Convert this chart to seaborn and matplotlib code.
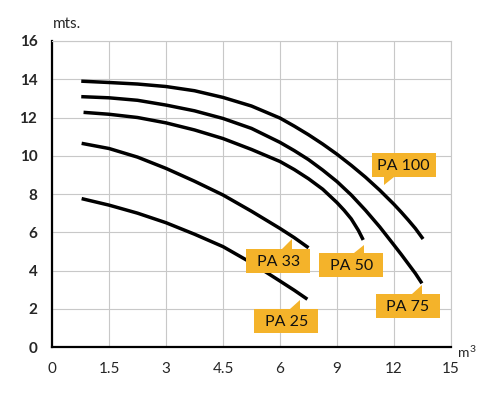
import numpy as np
import pandas as pd
import seaborn as sns
import matplotlib.pyplot as plt
from matplotlib.patches import Polygon, Rectangle
from matplotlib.transforms import IdentityTransform

# pump curves: flow (m3) vs head (mts.)
flow_ticks = [0, 1.5, 3, 4.5, 6, 9, 12, 15]
head_ticks = [0, 2, 4, 6, 8, 10, 12, 14, 16]

pa100_flow = [0.77, 1.5, 2.25, 3.0, 3.75, 4.5, 5.25, 6.0, 6.75, 7.5, 8.25, 9.0, 9.75,
              10.5, 11.25, 12.0, 12.375, 12.75, 13.125, 13.53]
pa100_head = [13.9, 13.83, 13.75, 13.62, 13.4, 13.05, 12.6, 11.97, 11.55, 11.1, 10.61, 10.08, 9.5,
              8.88, 8.2, 7.46, 7.06, 6.64, 6.2, 5.65]

pa75_flow = [0.77, 1.5, 2.25, 3.0, 3.75, 4.5, 5.25, 6.0, 6.75, 7.5, 8.25, 9.0, 9.75,
             10.5, 11.25, 12.0, 12.375, 12.75, 13.125, 13.47]
pa75_head = [13.09, 13.03, 12.9, 12.65, 12.35, 11.95, 11.43, 10.7, 10.27, 9.8, 9.25, 8.65, 7.95,
             7.15, 6.28, 5.33, 4.85, 4.35, 3.85, 3.33]

pa50_flow = [0.83, 1.5, 2.25, 3.0, 3.75, 4.5, 5.25, 6.0, 6.75, 7.5, 8.25, 9.0, 9.375,
             9.75, 10.125, 10.38]
pa50_head = [12.27, 12.17, 12.0, 11.72, 11.35, 10.9, 10.33, 9.7, 9.28, 8.8, 8.25, 7.55, 7.15,
             6.7, 6.1, 5.6]

pa33_flow = [0.78, 1.5, 2.25, 3.0, 3.75, 4.5, 5.25, 6.0, 6.75, 7.5]
pa33_head = [10.65, 10.38, 9.93, 9.34, 8.67, 7.95, 7.1, 6.2, 5.72, 5.19]

pa25_flow = [0.78, 1.5, 2.25, 3.0, 3.75, 4.5, 5.25, 6.0, 6.75, 7.44]
pa25_head = [7.76, 7.42, 7.0, 6.5, 5.9, 5.25, 4.4, 3.45, 2.97, 2.5]

models = ["PA 100", "PA 75", "PA 50", "PA 33", "PA 25"]
flows = [pa100_flow, pa75_flow, pa50_flow, pa33_flow, pa25_flow]
heads = [pa100_head, pa75_head, pa50_head, pa33_head, pa25_head]

# callout labels: box centre and pointer tip (flow, head)
label_box = {"PA 100": (12.51, 9.54), "PA 75": (12.73, 2.15), "PA 50": (9.75, 4.27),
             "PA 33": (5.95, 4.49), "PA 25": (6.33, 1.375)}
label_tip = {"PA 100": (11.49, 8.47), "PA 75": (13.46, 3.26), "PA 50": (10.44, 5.35),
             "PA 33": (6.62, 5.63), "PA 25": (7.05, 2.44)}

df = pd.concat([pd.DataFrame({"model": m, "flow": f, "head": h})
                for m, f, h in zip(models, flows, heads)])

sns.set_style("white")
plt.rcParams['font.family'] = ['Lato', 'DejaVu Sans']

fig = plt.figure(figsize=(5, 3.98), dpi=100)
ax = fig.add_axes([0.104, 0.128, 0.798, 0.769])

# the flow axis is evenly spaced per tick, not linear
pos = np.arange(len(flow_ticks))
ax.set_xscale('function', functions=(lambda x: np.interp(x, flow_ticks, pos),
                                     lambda p: np.interp(p, pos, flow_ticks)))

sns.lineplot(data=df, x="flow", y="head", hue="model", palette=["black"] * 5,
             linewidth=2.5, legend=False, sort=False, ax=ax,
             solid_capstyle='butt', solid_joinstyle='round')

ax.set_xlim(0, 15)
ax.set_ylim(0, 16)
ax.set_autoscale_on(False)
ax.set_xticks(flow_ticks)
ax.set_xticklabels([f"{t:g}" for t in flow_ticks], fontsize=11)
ax.set_yticks(head_ticks)
ax.set_yticklabels([str(t) for t in head_ticks], fontsize=11, fontweight='bold')
ax.set_xlabel("")
ax.set_ylabel("")

ax.grid(True, color='#c8c8c8', lw=0.8)
ax.set_axisbelow(True)
for s in ['top', 'right']:
    ax.spines[s].set_color('#c8c8c8')
    ax.spines[s].set_linewidth(0.8)
for s in ['left', 'bottom']:
    ax.spines[s].set_color('black')
    ax.spines[s].set_linewidth(1.6)
ax.tick_params(axis='both', direction='out', length=4.5, width=1.4, color='black', pad=6)
ax.tick_params(axis='both', which='minor', length=0)

# orange callouts with a small tab pointing at the curve
orange = '#f4b32a'
bw, bh, tw = 64, 24, 10
for m in models:
    cx, cy = ax.transData.transform(label_box[m])
    tx, ty = ax.transData.transform(label_tip[m])
    ax.add_patch(Rectangle((cx - bw / 2, cy - bh / 2), bw, bh, fc=orange, ec='none',
                           transform=IdentityTransform(), zorder=4))
    if ty > cy:
        edge, side = cy + bh / 2, -1
    else:
        edge, side = cy - bh / 2, 1
    ax.add_patch(Polygon([(tx, ty), (tx, edge), (tx + side * tw, edge)], closed=True,
                         fc=orange, ec='none', transform=IdentityTransform(), zorder=4))
    ax.text(cx, cy - 1, m, transform=IdentityTransform(), ha='center', va='center',
            fontsize=11.5, color='#111111', zorder=5)

fig.text(53 / 500, 1 - 28 / 398, "mts.", fontsize=11, ha='left', va='baseline')
fig.text(458 / 500, 1 - 357 / 398, "m", fontsize=10, ha='left', va='baseline')
fig.text(470 / 500, 1 - 352 / 398, "3", fontsize=7.5, ha='left', va='baseline')

fig.savefig("out.png", dpi=100)
